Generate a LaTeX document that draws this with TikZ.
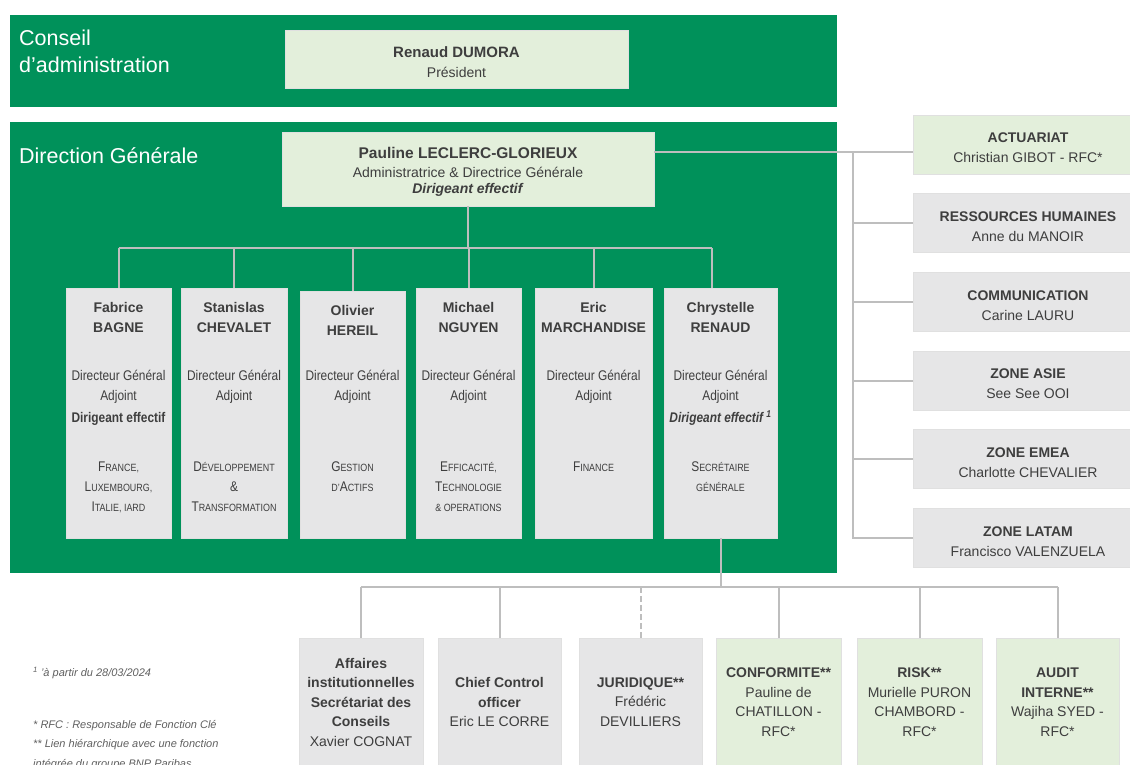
\documentclass[tikz,border=0pt]{standalone}
\usepackage{fontspec}
\setmainfont{Liberation Sans}
\newfontfamily\etroit{Liberation Sans}[FakeStretch=0.85]
\usetikzlibrary{positioning}

\definecolor{vertbnp}{RGB}{0,145,90}
\definecolor{vertpale}{RGB}{227,239,219}
\definecolor{grispale}{RGB}{230,230,231}
\definecolor{trait}{RGB}{190,190,190}
\definecolor{texte}{RGB}{62,62,62}
\definecolor{note}{RGB}{95,95,95}

% petites capitales simulees
\newcommand\pc[1]{{\fontsize{10.5}{20}\selectfont #1}}
\newcommand\nom[1]{{\rmfamily\bfseries #1}}
% premiere ligne un peu plus basse
\newcommand\haut{\rule{0pt}{16.5pt}}

\tikzset{
  panneau/.style={fill=vertbnp, draw=none, inner sep=0pt},
  boite/.style={draw=black!12, line width=0.7pt, inner sep=0pt, text=texte, align=center},
  boitevert/.style={boite, fill=vertpale},
  boitegris/.style={boite, fill=grispale},
  lien/.style={draw=trait, line width=2pt},
  titre/.style={text=white, font=\fontsize{21.5}{27}\selectfont, align=left, inner sep=0pt},
  colonne/.style={inner sep=0pt, text=texte, align=center, anchor=north, font=\etroit\fontsize{14}{20}\selectfont},
  droite/.style={minimum width=230pt, minimum height=59pt, font=\fontsize{14}{20}\selectfont},
  basboite/.style={minimum height=128pt, font=\fontsize{14}{19.5}\selectfont},
  renvoi/.style={inner sep=0pt, text=note, align=left, font=\fontsize{11}{19.5}\selectfont\itshape},
}

\begin{document}
\begin{tikzpicture}[x=1pt, y=-1pt, node distance=19pt]
    \useasboundingbox (0,0) rectangle (1130,765);
    \clip (0,0) rectangle (1130,765);

    % panneaux verts
    \node[panneau, minimum width=827pt, minimum height=92pt] (ca) at (423.5,61) {};
    \node[panneau, minimum width=827pt, minimum height=451pt] (direction) at (423.5,347.5) {};
    \node[titre, anchor=north west] (ca titre) at (19,30) {Conseil\\d’administration};
    \node[titre, anchor=base west] (direction titre) at (19,163.5) {Direction Générale};

    \node[boitevert, minimum width=343pt, minimum height=58pt, font=\fontsize{14}{20}\selectfont] (pres) at (456.5,59) {\haut{\bfseries\fontsize{15}{20}\selectfont Renaud DUMORA}\\Président};

    \node[boitevert, minimum width=372pt, minimum height=74pt, font=\fontsize{14}{19}\selectfont] (dg) at (468,169) {\haut{\bfseries\fontsize{15.5}{19}\selectfont Pauline LECLERC-GLORIEUX}\\Administratrice \& Directrice Générale\\[-3pt]\textbf{\textit{Dirigeant effectif}}};

    % directeurs generaux adjoints
    \node[boitegris, minimum width=105pt, minimum height=250pt] (c1) at (118.5,413) {};
    \node[boitegris, minimum width=106pt, minimum height=250pt] (c2) at (234,413) {};
    \node[boitegris, minimum width=105pt, minimum height=247pt] (c3) at (352.5,414.5) {};
    \node[boitegris, minimum width=105pt, minimum height=250pt] (c4) at (468.5,413) {};
    \node[boitegris, minimum width=117pt, minimum height=250pt] (c5) at (593.5,413) {};
    \node[boitegris, minimum width=113pt, minimum height=250pt] (c6) at (720.5,413) {};

    \node[colonne] (c1 texte) at ([yshift=-15pt]c1.north) {\nom{Fabrice}\\\nom{BAGNE}\\[28pt]Directeur Général\\Adjoint\\[2pt]\textbf{Dirigeant effectif}\\[29pt]F\pc{RANCE,}\\L\pc{UXEMBOURG,}\\I\pc{TALIE, IARD}};
    \node[colonne] (c2 texte) at ([yshift=-15pt]c2.north) {\nom{Stanislas}\\\nom{CHEVALET}\\[28pt]Directeur Général\\Adjoint\\[2pt]~\\[29pt]D\pc{ÉVELOPPEMENT}\\\&\\T\pc{RANSFORMATION}};
    \node[colonne] (c3 texte) at ([yshift=-15pt]c3.north) {\nom{Olivier}\\\nom{HEREIL}\\[25pt]Directeur Général\\Adjoint\\[2pt]~\\[29pt]G\pc{ESTION}\\\pc{D’}A\pc{CTIFS}};
    \node[colonne] (c4 texte) at ([yshift=-15pt]c4.north) {\nom{Michael}\\\nom{NGUYEN}\\[28pt]Directeur Général\\Adjoint\\[2pt]~\\[29pt]E\pc{FFICACITÉ,}\\T\pc{ECHNOLOGIE}\\\pc{\& OPERATIONS}};
    \node[colonne] (c5 texte) at ([yshift=-15pt]c5.north) {\nom{Eric}\\\nom{MARCHANDISE}\\[28pt]Directeur Général\\Adjoint\\[2pt]~\\[29pt]F\pc{INANCE}};
    \node[colonne] (c6 texte) at ([yshift=-15pt]c6.north) {\nom{Chrystelle}\\\nom{RENAUD}\\[28pt]Directeur Général\\Adjoint\\[2pt]\textbf{\textit{Dirigeant effectif \textsuperscript{1}}}\\[29pt]S\pc{ECRÉTAIRE}\\\pc{GÉNÉRALE}};

    % fonctions rattachees a droite
    \node[boitevert, droite] (actu) at (1028,144.5) {\haut\textbf{ACTUARIAT}\\Christian GIBOT - RFC*};
    \node[boitegris, droite, below=of actu] (rh) {\haut\textbf{RESSOURCES HUMAINES}\\Anne du MANOIR};
    \node[boitegris, droite, below=of rh] (com) {\haut\textbf{COMMUNICATION}\\Carine LAURU};
    \node[boitegris, droite, below=of com] (asie) {\haut\textbf{ZONE ASIE}\\See See OOI};
    \node[boitegris, droite, below=of asie] (emea) {\haut\textbf{ZONE EMEA}\\Charlotte CHEVALIER};
    \node[boitegris, droite, below=of emea] (latam) {\haut\textbf{ZONE LATAM}\\Francisco VALENZUELA};

    % fonctions sous le secretariat general
    \node[boitegris, basboite, minimum width=124pt] (affaires) at (361,702) {\textbf{Affaires}\\\textbf{institutionnelles}\\\textbf{Secrétariat des}\\\textbf{Conseils}\\Xavier COGNAT};
    \node[boitegris, basboite, minimum width=123pt] (cco) at (499.5,702) {\textbf{Chief Control}\\\textbf{officer}\\Eric LE CORRE};
    \node[boitegris, basboite, minimum width=123pt] (juri) at (640.5,702) {\textbf{JURIDIQUE**}\\Frédéric\\DEVILLIERS};
    \node[boitevert, basboite, minimum width=125pt] (conf) at (778.5,702) {\textbf{CONFORMITE**}\\Pauline de\\CHATILLON -\\RFC*};
    \node[boitevert, basboite, minimum width=125pt] (risk) at (919.5,702) {\textbf{RISK**}\\Murielle PURON\\CHAMBORD -\\RFC*};
    \node[boitevert, basboite, minimum width=123pt] (audit) at (1057.5,702) {\textbf{AUDIT}\\\textbf{INTERNE**}\\Wajiha SYED -\\RFC*};

    % renvois
    \node[renvoi, anchor=west] (note1) at (33,673) {\textsuperscript{1} ’à partir du 28/03/2024};
    \node[renvoi, anchor=north west] (note2) at (33,720) {* RFC : Responsable de Fonction Clé\\** Lien hiérarchique avec une fonction\\intégrée du groupe BNP Paribas};

    % liaisons
    \coordinate (bus) at (468,248);
    \coordinate (d6) at (712,248);
    \draw[lien] (dg.south) -- (bus);
    \draw[lien] (c1.north |- bus) -- (d6);
    \draw[lien] (c1.north |- bus) -- (c1.north);
    \draw[lien] (c2.north |- bus) -- (c2.north);
    \draw[lien] (c3.north |- bus) -- (c3.north);
    \draw[lien] (c4.north |- bus) -- (c4.north);
    \draw[lien] (c5.north |- bus) -- (c5.north);
    \draw[lien] (d6) -- (d6 |- c6.north);

    \coordinate (embr) at (853,152);
    \draw[lien] (dg.east |- embr) -- (actu.west |- embr);
    \draw[lien] (embr) -- (embr |- latam.west) -- (latam.west);
    \draw[lien] (embr |- rh.west) -- (rh.west);
    \draw[lien] (embr |- com.west) -- (com.west);
    \draw[lien] (embr |- asie.west) -- (asie.west);
    \draw[lien] (embr |- emea.west) -- (emea.west);

    \coordinate (bas) at (720.5,587);
    \draw[lien] (c6.south) -- (bas);
    \draw[lien] (affaires.north |- bas) -- (audit.north |- bas);
    \draw[lien] (affaires.north |- bas) -- (affaires.north);
    \draw[lien] (cco.north |- bas) -- (cco.north);
    \draw[lien, dash pattern=on 6pt off 3pt] (juri.north |- bas) -- (juri.north);
    \draw[lien] (conf.north |- bas) -- (conf.north);
    \draw[lien] (risk.north |- bas) -- (risk.north);
    \draw[lien] (audit.north |- bas) -- (audit.north);
\end{tikzpicture}
\end{document}
